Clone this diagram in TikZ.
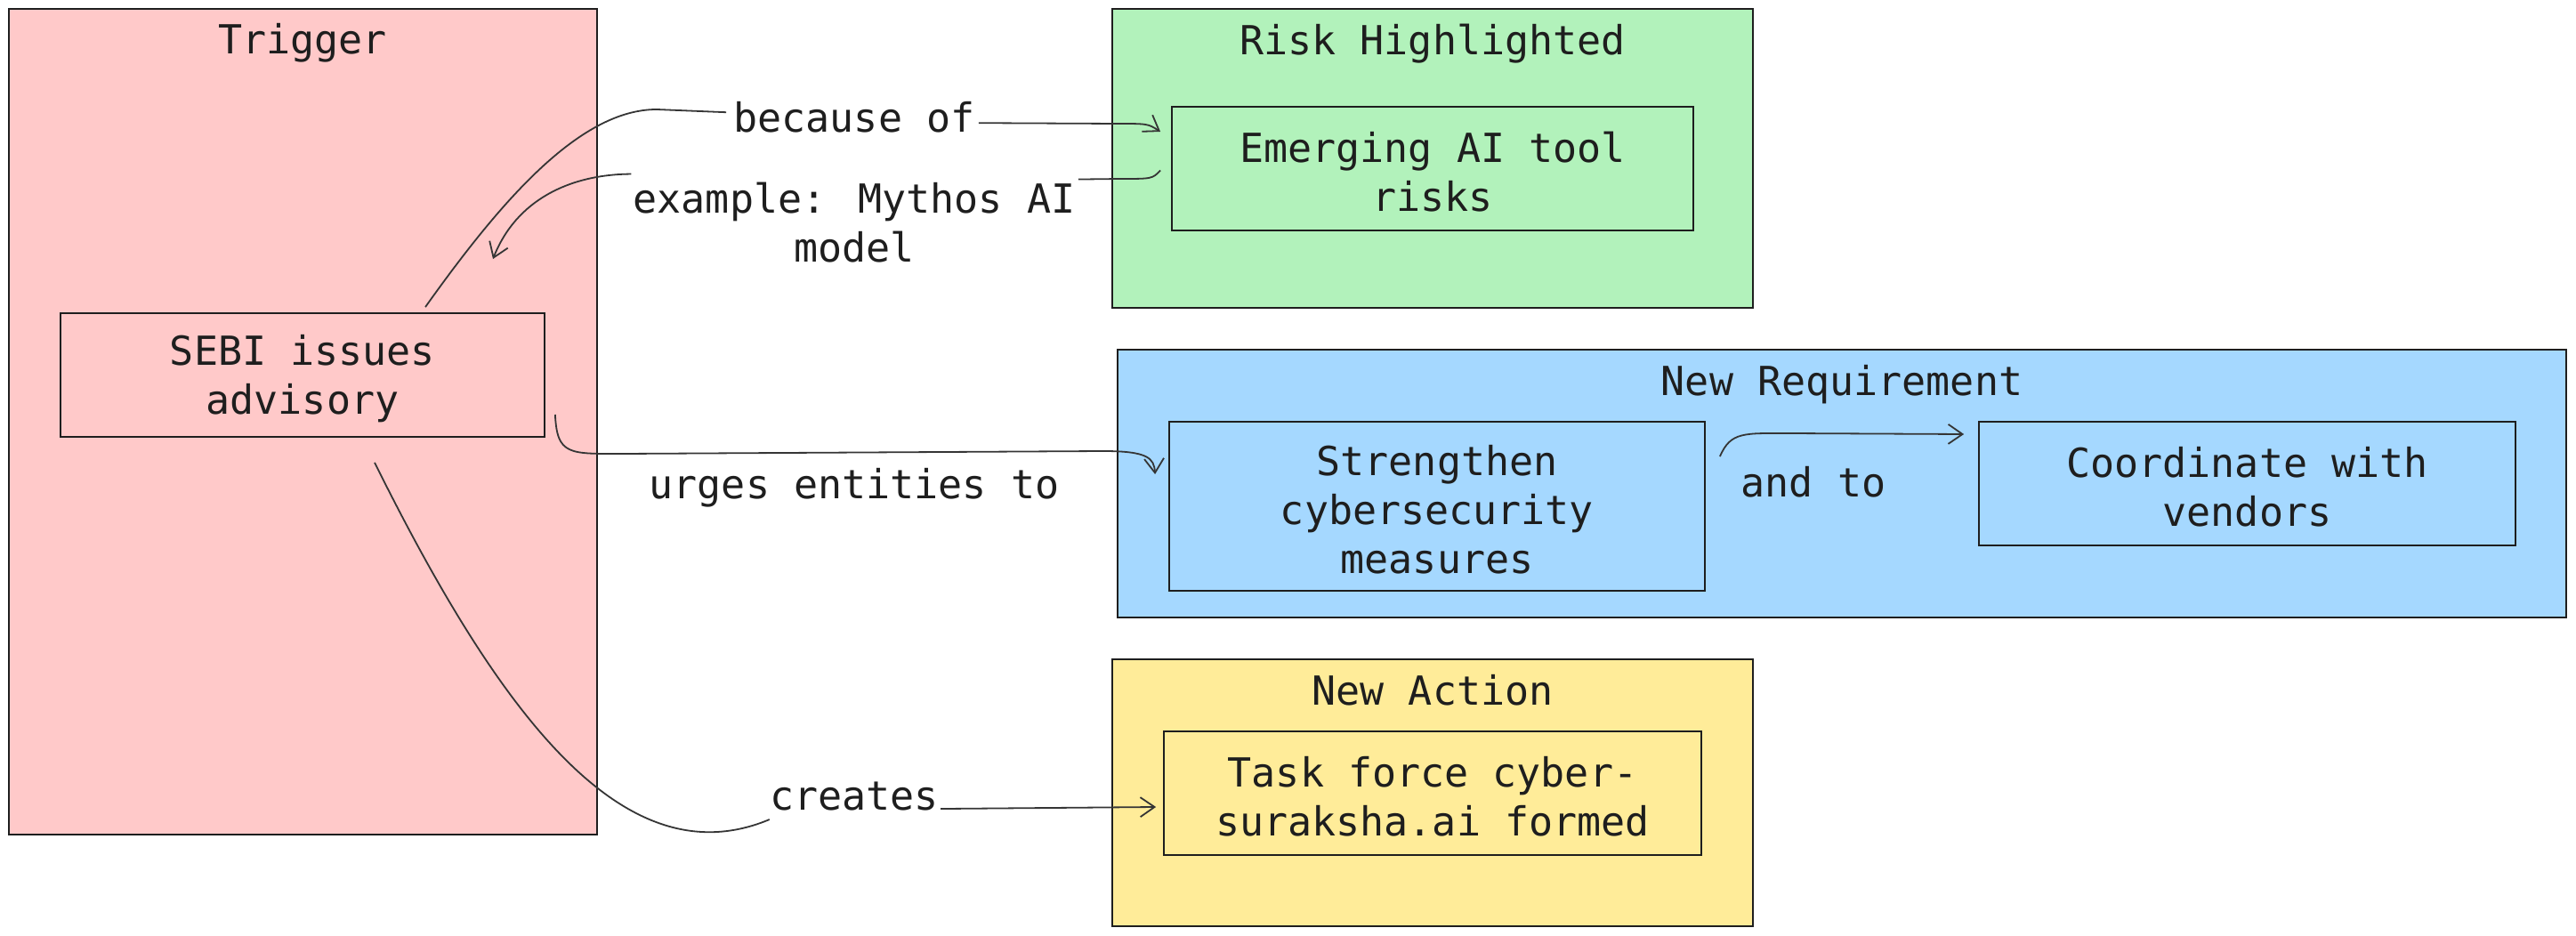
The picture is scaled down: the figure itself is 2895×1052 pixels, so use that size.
\documentclass[tikz,border=0pt]{standalone}
\usepackage{fontspec}
\setmainfont{DejaVu Sans Mono}
\usetikzlibrary{arrows.meta}
\definecolor{pinkbg}{HTML}{FFC9C9}
\definecolor{greenbg}{HTML}{B2F2BB}
\definecolor{bluebg}{HTML}{A5D8FF}
\definecolor{yellowbg}{HTML}{FFEC99}
\definecolor{ink}{HTML}{1E1E1E}
\begin{document}
\begin{tikzpicture}[x=0.5pt,y=-0.5pt,
  font=\fontsize{22.5}{27.5}\selectfont, text=ink,
  cluster/.style={draw=ink, line width=1pt, inner sep=0pt},
  box/.style={draw=ink, line width=0.9pt, inner sep=0pt},
  boxtext/.style={align=center, inner sep=0pt, yshift=-1.8pt},
  title/.style={anchor=base, inner sep=0pt},
  lbl/.style={anchor=base, inner sep=0pt, align=center},
  edge/.style={draw=ink!90, line width=0.9pt},
  arr/.style={edge, -{Straight Barb[length=8pt,width=11pt,line width=0.9pt]}}]
\useasboundingbox (0,0) rectangle (2895,1052);
% clusters
\node[cluster, fill=pinkbg, minimum width=330.5pt, minimum height=464pt] (trig) at (340.5,474) {};
\node[cluster, fill=greenbg, minimum width=360pt, minimum height=168pt] (risk) at (1610,178) {};
\node[cluster, fill=bluebg, minimum width=814pt, minimum height=150.5pt] (req) at (2070,543.5) {};
\node[cluster, fill=yellowbg, minimum width=360pt, minimum height=150pt] (act) at (1610,891) {};
% titles
\node[title] (trigt) at (340,61) {Trigger};
\node[title] (riskt) at (1610,62) {Risk Highlighted};
\node[title] (reqt) at (2070,445) {New Requirement};
\node[title] (actt) at (1610,792) {New Action};
% inner nodes
\node[box, minimum width=272pt, minimum height=69.5pt, label={[boxtext]center:{SEBI issues\\advisory}}] (sebi) at (340,421.5) {};
\node[box, minimum width=293pt, minimum height=69.5pt, label={[boxtext]center:{Emerging AI tool\\risks}}] (emerg) at (1610,189.5) {};
\node[box, minimum width=301pt, minimum height=95pt, label={[boxtext]center:{Strengthen\\cybersecurity\\measures}}] (str) at (1615,569) {};
\node[box, minimum width=301.5pt, minimum height=69.5pt, label={[boxtext]center:{Coordinate with\\vendors}}] (coord) at (2525.5,543.5) {};
\node[box, minimum width=302pt, minimum height=69.5pt, label={[boxtext]center:{Task force cyber-\\suraksha.ai formed}}] (task) at (1610,891.5) {};
% labels
\node[lbl] (lb1) at (960,149) {because of};
\node[inner sep=0pt, align=center] (lb2) at (960,250) {example: Mythos AI\\model};
\node[lbl] (lb3) at (960,561) {urges entities to};
\node[lbl] (lb4) at (960,910) {creates};
\node[lbl] (lb5) at (2038,559) {and to};
% edges
\draw[edge] ([xshift=69pt,yshift=3pt]sebi.north) .. controls (560,230) and (650,123) .. (738,123) -- ([xshift=-4pt,yshift=3pt]lb1.west);
\draw[arr] ([xshift=2pt,yshift=-3pt]lb1.east) -- (1255,139) .. controls (1290,139) .. ([xshift=-6pt,yshift=20.75pt]emerg.west);
\draw[edge] ([xshift=-6pt,yshift=-1pt]emerg.west) .. controls (1295,201) .. (1260,201) -- ([xshift=1.5pt,yshift=1.5pt]lb2.north east);
\draw[arr] ([xshift=-1pt,yshift=4.5pt]lb2.north west) .. controls (640,196) and (580,225) .. ([xshift=107pt,yshift=30pt]sebi.north);
\draw[arr] ([xshift=5.5pt,yshift=-22.25pt]sebi.east) .. controls (626,512) and (640,510) .. (700,510) -- (1240,507) .. controls (1290,507) and (1297,515) .. ([xshift=-7.5pt,yshift=18pt]str.west);
\draw[edge] ([xshift=40.5pt,yshift=-14pt]sebi.south) .. controls (560,800) and (700,990) .. ([yshift=-5pt]lb4.south west);
\draw[arr] ([xshift=1pt,yshift=1pt]lb4.south east) -- ([xshift=-4pt,yshift=-7.75pt]task.west);
\draw[arr] ([xshift=8pt,yshift=28pt]str.east) .. controls (1945,485) and (1960,487) .. (2010,487) -- ([xshift=-8pt,yshift=27.75pt]coord.west);
\end{tikzpicture}
\end{document}
